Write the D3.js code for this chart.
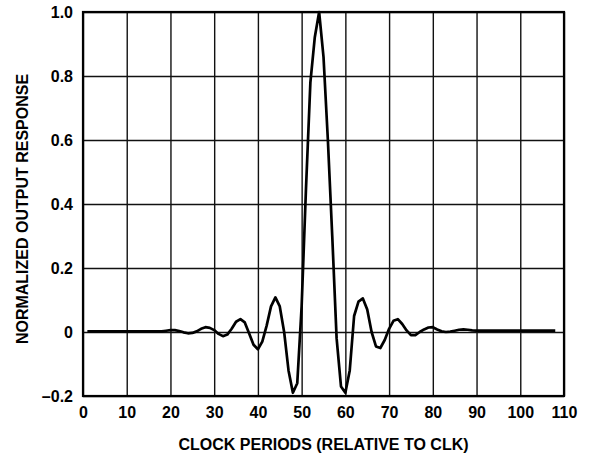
<!DOCTYPE html>
<html>
<head>
<meta charset="utf-8">
<script src="https://cdn.jsdelivr.net/npm/d3@7"></script>
<style>
  body { margin: 0; background: #fff; }
  text { font-family: "Liberation Sans", Arial, sans-serif; font-weight: bold; fill: #000; }
</style>
</head>
<body>
<div class="chart"></div>
<script>
// DATA ------------------------------
const xTicks = [0, 10, 20, 30, 40, 50, 60, 70, 80, 90, 100, 110];
const yTicks = [-0.2, 0, 0.2, 0.4, 0.6, 0.8, 1.0];
const yTickLabels = ["\u20130.2", "0", "0.2", "0.4", "0.6", "0.8", "1.0"];

// clock periods 1..108
const clock = d3.range(1, 109);
const response = [
  0.002, 0.002, 0.002, 0.002, 0.002, 0.002, 0.002, 0.002, 0.002, 0.002,
  0.002, 0.002, 0.002, 0.002, 0.002, 0.002, 0.002, 0.002, 0.004, 0.006,
  0.006, 0.003, -0.001, -0.004, -0.003, 0.002, 0.010, 0.015, 0.013, 0.006,
  -0.006, -0.013, -0.008, 0.010, 0.032, 0.040, 0.030, -0.005, -0.040, -0.054,
  -0.030, 0.020, 0.080, 0.108, 0.080, 0.000, -0.120, -0.190, -0.160, 0.080,
  0.450, 0.780, 0.920, 1.000, 0.860, 0.600, 0.300, -0.020, -0.170, -0.190,
  -0.120, 0.050, 0.095, 0.105, 0.070, 0.000, -0.045, -0.050, -0.025, 0.010,
  0.035, 0.040, 0.025, 0.005, -0.010, -0.010, 0.000, 0.008, 0.014, 0.015,
  0.008, 0.002, 0.000, 0.001, 0.004, 0.007, 0.008, 0.007, 0.005, 0.004,
  0.004, 0.004, 0.004, 0.004, 0.004, 0.004, 0.004, 0.004, 0.004, 0.004,
  0.004, 0.004, 0.004, 0.004, 0.004, 0.004, 0.004, 0.004
];

const xTitle = "CLOCK PERIODS (RELATIVE TO CLK)";
const yTitle = "NORMALIZED OUTPUT RESPONSE";

// CHART INIT ------------------------------
const margin = {top: 12, right: 29, bottom: 61, left: 83};
const width = 593 - margin.left - margin.right;
const height = 457 - margin.top - margin.bottom;

const svg = d3.select(".chart").append("svg")
  .attr("width", width + margin.left + margin.right)
  .attr("height", height + margin.top + margin.bottom)
  .append("g")
  .attr("transform", `translate(${margin.left},${margin.top})`);

const xScale = d3.scaleLinear().domain([0, 110]).range([0, width]);
const yScale = d3.scaleLinear().domain([-0.2, 1.0]).range([height, 0]);

// grid
svg.append("g")
  .attr("class", "grid-x")
  .attr("transform", `translate(0,${height})`)
  .call(d3.axisBottom(xScale).tickValues(xTicks).tickSize(-height).tickFormat(""))
  .call(g => g.select(".domain").remove())
  .selectAll("line").attr("stroke", "#111").attr("stroke-width", 1.4);

svg.append("g")
  .attr("class", "grid-y")
  .call(d3.axisLeft(yScale).tickValues(yTicks).tickSize(-width).tickFormat(""))
  .call(g => g.select(".domain").remove())
  .selectAll("line").attr("stroke", "#111").attr("stroke-width", 1.4);

// frame
svg.append("rect")
  .attr("width", width)
  .attr("height", height)
  .attr("fill", "none")
  .attr("stroke", "#000")
  .attr("stroke-width", 2.2);

// tick labels
const xAxis = svg.append("g")
  .attr("class", "x-axis")
  .attr("transform", `translate(0,${height})`)
  .call(d3.axisBottom(xScale).tickValues(xTicks).tickSize(0).tickPadding(11));
xAxis.select(".domain").remove();
xAxis.selectAll("text").style("font-size", "16px").style("font-family", null);

const yAxis = svg.append("g")
  .attr("class", "y-axis")
  .call(d3.axisLeft(yScale).tickValues(yTicks).tickSize(0).tickPadding(10)
    .tickFormat((d, i) => yTickLabels[i]));
yAxis.select(".domain").remove();
yAxis.selectAll("text").style("font-size", "16px").style("font-family", null);

// curve
const line = d3.line()
  .x((d, i) => xScale(clock[i]))
  .y(d => yScale(d));

svg.append("path")
  .datum(response)
  .attr("fill", "none")
  .attr("stroke", "#000")
  .attr("stroke-width", 2.7)
  .attr("stroke-linejoin", "round")
  .attr("d", line);

// axis titles
svg.append("text")
  .attr("x", width / 2)
  .attr("y", height + 54)
  .attr("text-anchor", "middle")
  .attr("font-size", 16)
  .text(xTitle);

svg.append("text")
  .attr("transform", `translate(${-55},${height / 2 + 5}) rotate(-90)`)
  .attr("text-anchor", "middle")
  .attr("font-size", 16)
  .text(yTitle);
</script>
</body>
</html>
